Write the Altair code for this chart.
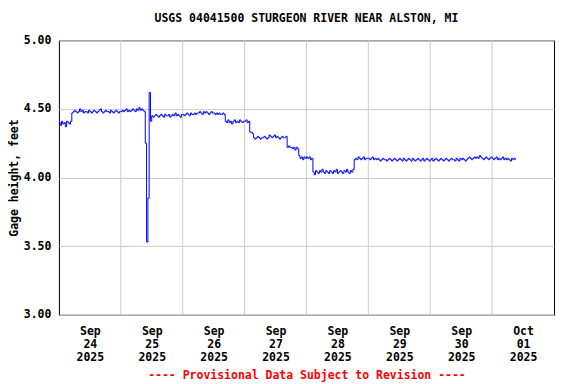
import altair as alt
import pandas as pd

# Gage height (feet), 30-minute readings starting Sep 24 2025 00:00
sep24 = [4.40, 4.38, 4.41, 4.39, 4.40, 4.37, 4.41, 4.40, 4.39, 4.41,
         4.47, 4.48, 4.49, 4.48, 4.47, 4.48, 4.50, 4.48, 4.49, 4.47,
         4.48, 4.48, 4.47, 4.49, 4.48, 4.47, 4.48, 4.49, 4.48, 4.47,
         4.48, 4.49, 4.50, 4.48, 4.47, 4.48, 4.49, 4.48, 4.48, 4.47,
         4.49, 4.48, 4.47, 4.48, 4.49, 4.48, 4.47, 4.48]
sep25 = [4.48, 4.49, 4.48, 4.49, 4.50, 4.48, 4.49, 4.48, 4.49, 4.50,
         4.49, 4.48, 4.50, 4.49, 4.51, 4.49, 4.50, 4.49, 4.48,
         4.25, 3.53, 3.85, 4.62, 4.41,
         4.45, 4.44, 4.45, 4.46, 4.45, 4.44, 4.45, 4.46, 4.45, 4.44, 4.46, 4.45,
         4.45, 4.46, 4.44, 4.45, 4.46, 4.45, 4.47, 4.45, 4.46, 4.45, 4.44, 4.46]
sep26 = [4.46, 4.45, 4.46, 4.47, 4.46, 4.45, 4.47, 4.46, 4.46, 4.47, 4.46, 4.47,
         4.47, 4.48, 4.47, 4.46, 4.48, 4.47, 4.48, 4.47, 4.46, 4.47, 4.48, 4.47,
         4.47, 4.46, 4.47, 4.46, 4.47, 4.46, 4.46, 4.47, 4.46,
         4.41, 4.40, 4.42, 4.40, 4.41, 4.39, 4.41, 4.42, 4.40, 4.41, 4.40, 4.42,
         4.41, 4.40, 4.41]
sep27 = [4.41, 4.42, 4.40, 4.41,
         4.33, 4.33, 4.32,
         4.29, 4.28, 4.29, 4.30, 4.29, 4.28, 4.29, 4.29, 4.30, 4.29, 4.28, 4.29, 4.31,
         4.30, 4.29, 4.30, 4.31, 4.29, 4.30, 4.29, 4.28, 4.29, 4.30, 4.29, 4.29, 4.30,
         4.22, 4.23, 4.22, 4.22, 4.21, 4.22, 4.20, 4.22, 4.21,
         4.16, 4.14, 4.15, 4.13, 4.15, 4.14]
sep28 = [4.15, 4.14, 4.15, 4.13, 4.14,
         4.04, 4.02, 4.05, 4.04, 4.03, 4.05, 4.04, 4.06, 4.04, 4.03, 4.05, 4.04,
         4.03, 4.05, 4.04, 4.03,
         4.05, 4.04, 4.06, 4.03, 4.04, 4.05, 4.04, 4.03, 4.05, 4.04, 4.06, 4.04,
         4.03, 4.05, 4.04, 4.06,
         4.13, 4.14, 4.13, 4.15, 4.14, 4.13, 4.14, 4.15, 4.13, 4.14, 4.14]
sep29 = [4.14, 4.13, 4.14, 4.15, 4.13, 4.14, 4.13, 4.14, 4.13, 4.12, 4.13, 4.14,
         4.13, 4.13, 4.12, 4.13, 4.14, 4.13, 4.12, 4.13, 4.14, 4.13, 4.12, 4.13,
         4.14, 4.13, 4.12, 4.14, 4.13, 4.12, 4.13, 4.14, 4.13, 4.12, 4.14, 4.13,
         4.12, 4.13, 4.14, 4.13, 4.12, 4.13, 4.14, 4.12, 4.13, 4.14, 4.13, 4.12]
sep30 = [4.13, 4.14, 4.12, 4.13, 4.14, 4.13, 4.12, 4.13, 4.14, 4.13, 4.12, 4.13,
         4.14, 4.13, 4.12, 4.13, 4.14, 4.13, 4.13, 4.12, 4.14, 4.13, 4.12, 4.14,
         4.13, 4.14, 4.13, 4.12, 4.13, 4.14, 4.15, 4.14, 4.13, 4.14, 4.15, 4.14,
         4.15, 4.14, 4.16, 4.15, 4.14, 4.13, 4.14, 4.15, 4.14, 4.13, 4.14, 4.15]
oct01 = [4.14, 4.13, 4.14, 4.15, 4.13, 4.14, 4.13, 4.14, 4.15, 4.13,
         4.14, 4.13, 4.14, 4.13, 4.12, 4.14, 4.13, 4.14, 4.13]

start_time = "2025-09-24 00:00"
day_midnights = ["2025-09-25T00:00:00", "2025-09-26T00:00:00", "2025-09-27T00:00:00",
                 "2025-09-28T00:00:00", "2025-09-29T00:00:00", "2025-09-30T00:00:00",
                 "2025-10-01T00:00:00"]
y_ticks = [3.0, 3.5, 4.0, 4.5, 5.0]

values = sep24 + sep25 + sep26 + sep27 + sep28 + sep29 + sep30 + oct01
times = pd.date_range(start=start_time, periods=len(values), freq="30min")
df = pd.DataFrame({"time": times.strftime("%Y-%m-%dT%H:%M:%S"), "height": values})
grid_df = pd.DataFrame({"time": day_midnights})

FONT = "DejaVu Sans Mono"
FS = 11.5

noon_ticks = [alt.DateTime(year=2025, month=9, date=d, hours=12) for d in range(24, 31)] + \
             [alt.DateTime(year=2025, month=10, date=1, hours=12)]
xdomain = [alt.DateTime(year=2025, month=9, date=24), alt.DateTime(year=2025, month=10, date=2)]

xscale = alt.Scale(domain=xdomain)
xaxis = alt.Axis(values=noon_ticks,
                 labelExpr="[timeFormat(datum.value, '%b'), timeFormat(datum.value, '%d'), timeFormat(datum.value, '%Y')]",
                 grid=False, ticks=False, domain=False,
                 labelFont=FONT, labelFontSize=FS, labelFontWeight="bold",
                 labelColor="black", labelPadding=11, labelLineHeight=13,
                 labelAngle=0,
                 title="---- Provisional Data Subject to Revision ----",
                 titleFont=FONT, titleFontSize=FS, titleFontWeight="bold",
                 titleColor="#ff0000", titlePadding=6)

vgrid = alt.Chart(grid_df).mark_rule(color="#cccccc", strokeWidth=1).encode(
    x=alt.X("time:T", scale=xscale, axis=xaxis)
)

line = alt.Chart(df).mark_line(interpolate="step-after", color="#0000ff", strokeWidth=1).encode(
    x=alt.X("time:T", scale=xscale, axis=xaxis),
    y=alt.Y("height:Q", scale=alt.Scale(domain=[3, 5], nice=False, zero=False),
            axis=alt.Axis(values=y_ticks, format=".2f", grid=True, gridColor="#cccccc",
                          gridWidth=1, ticks=False, domain=False,
                          labelFont=FONT, labelFontSize=FS, labelFontWeight="bold",
                          labelColor="black", labelPadding=8,
                          title="Gage height, feet",
                          titleFont=FONT, titleFontSize=FS, titleFontWeight="bold",
                          titleColor="black", titlePadding=4))
)

chart = alt.layer(vgrid, line).properties(
    width=496,
    height=275,
    title=alt.TitleParams("USGS 04041500 STURGEON RIVER NEAR ALSTON, MI",
                          anchor="middle", font=FONT, fontSize=FS, fontWeight="bold",
                          color="black", offset=10),
    autosize=alt.AutoSizeParams(type="none"),
    padding={"left": 51, "top": 32, "right": 14, "bottom": 68},
    background="white",
).configure_view(stroke="black", strokeWidth=1)

chart.save("out.html", embed_options={"renderer": "svg", "actions": False})
